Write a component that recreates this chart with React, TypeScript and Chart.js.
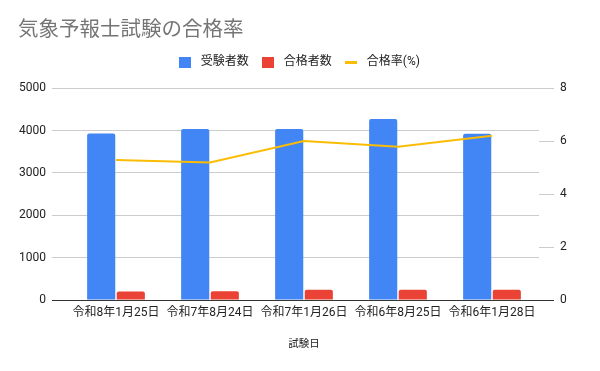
import React, { useEffect, useRef } from "react";
import { Chart, registerables } from "chart.js";

Chart.register(...registerables);

const examDates = ["令和8年1月25日", "令和7年8月24日", "令和7年1月26日", "令和6年8月25日", "令和6年1月28日"];
const applicants = [3930, 4040, 4040, 4275, 3925];
const passers = [200, 205, 240, 245, 240];
const passRate = [5.29, 5.2, 6.01, 5.79, 6.21];
const leftTicks = [0, 1000, 2000, 3000, 4000, 5000];
const rightTicks = [0, 2, 4, 6, 8];

const seriesColors = ["#4285F4", "#EA4335", "#FBBC04"];

const FONT = "Roboto, 'Noto Sans CJK JP', sans-serif";
const gridColor = (ctx: any) => (ctx.tick && ctx.tick.value === 0 ? "#333333" : "#cccccc");

function swatch(color: string, kind: "rect" | "line") {
  const c = document.createElement("canvas");
  c.width = 12;
  c.height = kind === "rect" ? 11 : 3;
  const g = c.getContext("2d")!;
  g.fillStyle = color;
  g.fillRect(0, 0, c.width, c.height);
  return c;
}

const legendLayout = {
  id: "legendLayout",
  beforeInit(chart: any) {
    const orig = chart.legend.fit;
    chart.legend.fit = function () {
      orig.bind(chart.legend)();
      this.height = 42;
    };
  },
  afterLayout(chart: any) {
    const L = chart.legend;
    if (!L || !L.lineWidths) return;
    const pad = L.options.labels.padding;
    const W = L.lineWidths[0];
    L.right = 2 * 175.8 - L.left - pad + W;
  },
};

export default function App() {
  const ref = useRef<HTMLCanvasElement | null>(null);
  useEffect(() => {
    if (!ref.current) return;
    const swatches = [
      swatch(seriesColors[0], "rect"),
      swatch(seriesColors[1], "rect"),
      swatch(seriesColors[2], "line"),
    ];
    const chart = new Chart(ref.current, {
      data: {
        labels: examDates,
        datasets: [
          {
            type: "bar",
            label: "受験者数",
            data: applicants,
            backgroundColor: seriesColors[0],
            borderRadius: { topLeft: 2, topRight: 2, bottomLeft: 0, bottomRight: 0 },
            borderSkipped: false,
            categoryPercentage: 0.63,
            barPercentage: 0.95,
            yAxisID: "y",
            order: 2,
          } as any,
          {
            type: "bar",
            label: "合格者数",
            data: passers,
            backgroundColor: seriesColors[1],
            borderRadius: { topLeft: 2, topRight: 2, bottomLeft: 0, bottomRight: 0 },
            borderSkipped: false,
            categoryPercentage: 0.63,
            barPercentage: 0.95,
            yAxisID: "y",
            order: 2,
          } as any,
          {
            type: "line",
            label: "合格率(%)",
            data: passRate,
            borderColor: seriesColors[2],
            backgroundColor: seriesColors[2],
            borderWidth: 2,
            pointRadius: 0,
            tension: 0,
            yAxisID: "y1",
            order: 1,
          } as any,
        ],
      },
      options: {
        animation: false,
        responsive: false,
        maintainAspectRatio: false,
        layout: { padding: { top: 0, left: 18, right: 33, bottom: 0 } },
        plugins: {
          title: {
            display: true,
            text: "気象予報士試験の合格率",
            align: "start",
            color: "#757575",
            font: { family: FONT, size: 20.5, weight: "normal" },
            padding: { top: 18.7, bottom: 3 },
          },
          legend: {
            display: true,
            position: "top",
            labels: {
              usePointStyle: true,
              boxHeight: 12,
              pointStyleWidth: 19,
              padding: 10,
              color: "#222222",
              font: { family: FONT, size: 12 },
              sort: (a: any, b: any) => a.datasetIndex - b.datasetIndex,
              generateLabels: (c: any) =>
                Chart.defaults.plugins.legend.labels.generateLabels(c).map((it: any) => ({
                  ...it,
                  pointStyle: swatches[it.datasetIndex],
                })),
            },
          },
          tooltip: { enabled: false },
        },
        scales: {
          x: {
            type: "category",
            offset: true,
            grid: { display: false, drawTicks: false },
            border: { display: false },
            ticks: { color: "#222222", font: { family: FONT, size: 12 }, padding: 6, maxRotation: 0, autoSkip: false },
            title: {
              display: true,
              text: "試験日",
              color: "#222222",
              font: { family: FONT, size: 10.5 },
              padding: { top: 0, bottom: 20 },
            },
            afterFit: (s: any) => {
              s.height = 71;
            },
          },
          y: {
            type: "linear",
            position: "left",
            min: 0,
            max: 5000,
            afterBuildTicks: (s: any) => {
              s.ticks = leftTicks.map((v) => ({ value: v }));
            },
            afterFit: (s: any) => {
              s.width = 51;
            },
            grid: { color: gridColor, drawTicks: true, tickLength: 17, lineWidth: 1 },
            border: { display: false },
            ticks: { color: "#222222", font: { family: FONT, size: 12 }, padding: 6, callback: (v: any) => String(v) },
          },
          y1: {
            type: "linear",
            position: "right",
            min: 0,
            max: 8,
            afterBuildTicks: (s: any) => {
              s.ticks = rightTicks.map((v) => ({ value: v }));
            },
            afterFit: (s: any) => {
              s.width = 28;
            },
            grid: { color: gridColor, drawOnChartArea: false, drawTicks: true, tickLength: 15, lineWidth: 1 },
            border: { display: false },
            ticks: { color: "#222222", font: { family: FONT, size: 12 }, padding: 6, callback: (v: any) => String(v) },
          },
        },
      } as any,
      plugins: [legendLayout],
    });
    return () => chart.destroy();
  }, []);
  return (
    <div style={{ position: "fixed", left: 0, top: 0, width: 600, height: 371, background: "#ffffff" }}>
      <canvas ref={ref} width={600} height={371} style={{ width: 600, height: 371, display: "block" }} />
    </div>
  );
}
